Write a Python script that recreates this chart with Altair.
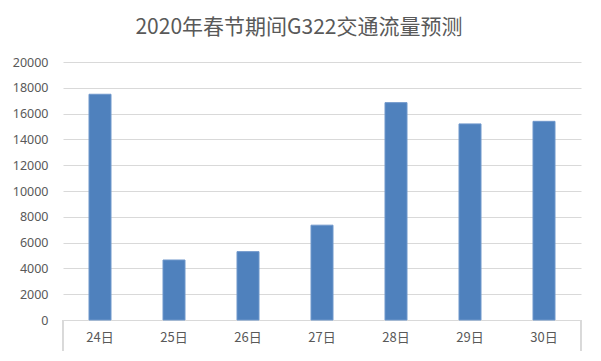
import altair as alt
import pandas as pd

days = ["24日", "25日", "26日", "27日", "28日", "29日", "30日"]
flows = [17500, 4650, 5300, 7350, 16850, 15200, 15400]
y_ticks = [0, 2000, 4000, 6000, 8000, 10000, 12000, 14000, 16000, 18000, 20000]

df = pd.DataFrame({"day": days, "flow": flows})

W, H = 518, 258
FONT = "Noto Sans CJK SC"
GREY = "#595959"

bars = alt.Chart(df).mark_bar(width=22, color="#4f81bd", stroke="#6f97cb", strokeWidth=1).encode(
    x=alt.X("day:N", sort=days, title=None,
            scale=alt.Scale(paddingInner=0, paddingOuter=0),
            axis=alt.Axis(labelAngle=0, ticks=False, domain=True, domainColor="#d9d9d9",
                          labelFont=FONT, labelFontSize=13, labelColor=GREY,
                          labelPadding=11, grid=False)),
    y=alt.Y("flow:Q", title=None,
            scale=alt.Scale(domain=[0, 20000], nice=False),
            axis=alt.Axis(values=y_ticks, format="d", ticks=False, domain=False, grid=True,
                          gridColor="#d9d9d9", gridWidth=1, labelOverlap=False,
                          labelFont="Noto Sans", labelFontSize=12.5, labelColor=GREY,
                          labelPadding=15)),
)

left_rule = alt.Chart(df).mark_rule(color="#d9d9d9", strokeWidth=1).encode(
    x=alt.value(0), y=alt.value(H), y2=alt.value(H + 31)
)
right_rule = alt.Chart(df).mark_rule(color="#d9d9d9", strokeWidth=1).encode(
    x=alt.value(W), y=alt.value(H), y2=alt.value(H + 31)
)

chart = alt.layer(bars, left_rule, right_rule).properties(
    width=W, height=H,
    background="white",
    title=alt.TitleParams("2020年春节期间G322交通流量预测", font=FONT, fontSize=21,
                          fontWeight="normal", color=GREY, anchor="middle",
                          dx=-23, offset=18),
    autosize=alt.AutoSizeParams(type="none"),
    padding={"left": 55, "top": 54, "right": 10, "bottom": 32},
).configure_view(strokeWidth=0, stroke=None)

chart.save("out.html", embed_options={"renderer": "svg", "actions": False})
